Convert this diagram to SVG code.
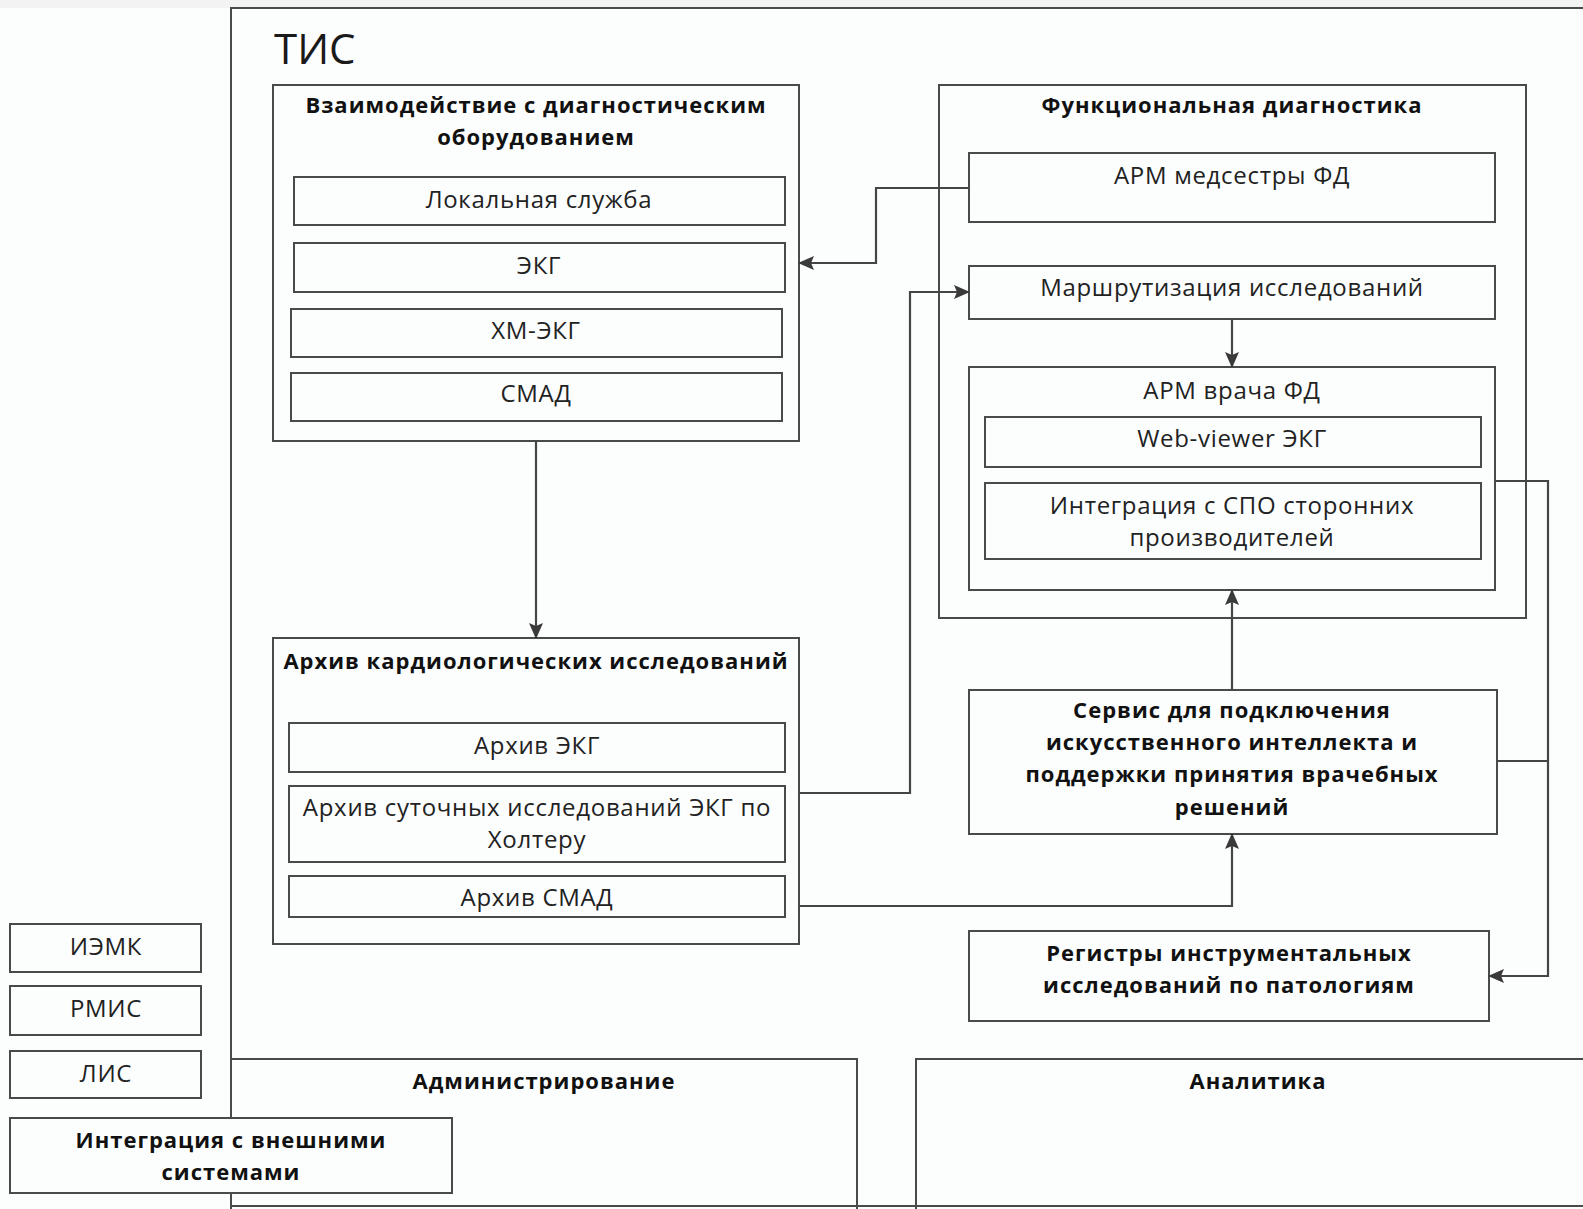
<svg xmlns="http://www.w3.org/2000/svg" width="1583" height="1209" viewBox="0 0 1583 1209">
<defs>
<style>
.box{fill:#fcfefe;stroke:#4a4a4a;stroke-width:2}
.open{fill:none;stroke:#4a4a4a;stroke-width:2}
.t{font-family:"Open Sans","Liberation Sans",sans-serif;font-size:24px;letter-spacing:0.7px;fill:#222;text-anchor:middle;dominant-baseline:central}
.b{font-family:"Open Sans","Liberation Sans",sans-serif;font-size:22px;letter-spacing:1px;font-weight:bold;fill:#111;text-anchor:middle;dominant-baseline:central}
.c{fill:none;stroke:#454545;stroke-width:2.2}
</style>
<marker id="arr" viewBox="0 0 16 14" refX="15" refY="7" markerWidth="16" markerHeight="14" markerUnits="userSpaceOnUse" orient="auto">
<path d="M0,0 L16,7 L0,14 L3,7 Z" fill="#3a3a3a"/>
</marker>
</defs>
<rect x="0" y="0" width="1583" height="1209" fill="#fcfefe"/>
<rect x="0" y="0" width="1583" height="8" fill="#f3f3f3"/>

<g id="tis">
<path class="open" d="M1590,8 H231 V1206 H1590"/>
<text x="274" y="47" style="font-family:'Open Sans','Liberation Sans',sans-serif;font-size:42px;fill:#1a1a1a;dominant-baseline:central">ТИС</text>
</g>

<g id="vzaimodeistvie">
<rect class="box" x="273" y="85" width="526" height="356"/>
<text class="b" x="536" y="104">Взаимодействие с диагностическим</text>
<text class="b" x="536" y="136">оборудованием</text>
</g>
<g id="lokalnaya">
<rect class="box" x="294" y="177" width="491" height="48"/>
<text class="t" x="539" y="198">Локальная служба</text>
</g>
<g id="ekg">
<rect class="box" x="294" y="243" width="491" height="49"/>
<text class="t" x="539" y="264">ЭКГ</text>
</g>
<g id="hm-ekg">
<rect class="box" x="291" y="309" width="491" height="48"/>
<text class="t" x="536" y="329">ХМ-ЭКГ</text>
</g>
<g id="smad">
<rect class="box" x="291" y="373" width="491" height="48"/>
<text class="t" x="536" y="392">СМАД</text>
</g>

<g id="arhiv">
<rect class="box" x="273" y="638" width="526" height="306"/>
<text class="b" x="536" y="660">Архив кардиологических исследований</text>
</g>
<g id="arhiv-ekg">
<rect class="box" x="289" y="723" width="496" height="49"/>
<text class="t" x="537" y="744">Архив ЭКГ</text>
</g>
<g id="arhiv-holter">
<rect class="box" x="289" y="786" width="496" height="76"/>
<text class="t" x="537" y="806">Архив суточных исследований ЭКГ по</text>
<text class="t" x="537" y="838">Холтеру</text>
</g>
<g id="arhiv-smad">
<rect class="box" x="289" y="876" width="496" height="41"/>
<text class="t" x="537" y="896">Архив СМАД</text>
</g>

<g id="fd">
<rect class="box" x="939" y="85" width="587" height="533"/>
<text class="b" x="1232" y="104">Функциональная диагностика</text>
</g>
<g id="arm-medsestry">
<rect class="box" x="969" y="153" width="526" height="69"/>
<text class="t" x="1232" y="174">АРМ медсестры ФД</text>
</g>
<g id="marshrut">
<rect class="box" x="969" y="266" width="526" height="53"/>
<text class="t" x="1232" y="286">Маршрутизация исследований</text>
</g>
<g id="arm-vracha">
<rect class="box" x="969" y="367" width="526" height="223"/>
<text class="t" x="1232" y="389">АРМ врача ФД</text>
</g>
<g id="web-viewer">
<rect class="box" x="985" y="417" width="496" height="50"/>
<text class="t" x="1232" y="437">Web-viewer ЭКГ</text>
</g>
<g id="integr-spo">
<rect class="box" x="985" y="483" width="496" height="76"/>
<text class="t" x="1232" y="504">Интеграция с СПО сторонних</text>
<text class="t" x="1232" y="536">производителей</text>
</g>

<g id="servis">
<rect class="box" x="969" y="690" width="528" height="144"/>
<text class="b" x="1232" y="709">Сервис для подключения</text>
<text class="b" x="1232" y="741">искусственного интеллекта и</text>
<text class="b" x="1232" y="773">поддержки принятия врачебных</text>
<text class="b" x="1232" y="806">решений</text>
</g>
<g id="registry">
<rect class="box" x="969" y="931" width="520" height="90"/>
<text class="b" x="1229" y="952">Регистры инструментальных</text>
<text class="b" x="1229" y="984">исследований по патологиям</text>
</g>

<g id="admin">
<path class="open" d="M231,1210 V1059 H857 V1210"/>
<text class="b" x="544" y="1080">Администрирование</text>
</g>
<g id="analitika">
<path class="open" d="M916,1210 V1059 H1590"/>
<text class="b" x="1258" y="1080">Аналитика</text>
</g>

<g id="iemk">
<rect class="box" x="10" y="924" width="191" height="48"/>
<text class="t" x="106" y="945">ИЭМК</text>
</g>
<g id="rmis">
<rect class="box" x="10" y="986" width="191" height="49"/>
<text class="t" x="106" y="1007">РМИС</text>
</g>
<g id="lis">
<rect class="box" x="10" y="1051" width="191" height="47"/>
<text class="t" x="106" y="1072">ЛИС</text>
</g>
<g id="integr-vnesh">
<rect class="box" x="10" y="1118" width="442" height="75"/>
<text class="b" x="231" y="1139">Интеграция с внешними</text>
<text class="b" x="231" y="1171">системами</text>
</g>

<g id="connectors">
<path class="c" d="M536,441 V638" marker-end="url(#arr)"/>
<path class="c" d="M969,188 H876 V263 H799" marker-end="url(#arr)"/>
<path class="c" d="M799,793 H910 V292 H969" marker-end="url(#arr)"/>
<path class="c" d="M1232,319 V367" marker-end="url(#arr)"/>
<path class="c" d="M799,906 H1232 V834" marker-end="url(#arr)"/>
<path class="c" d="M1232,690 V590" marker-end="url(#arr)"/>
<path class="c" d="M1495,481 H1548 V976 H1489" marker-end="url(#arr)"/>
<path class="c" d="M1497,761 H1548"/>
</g>
</svg>
